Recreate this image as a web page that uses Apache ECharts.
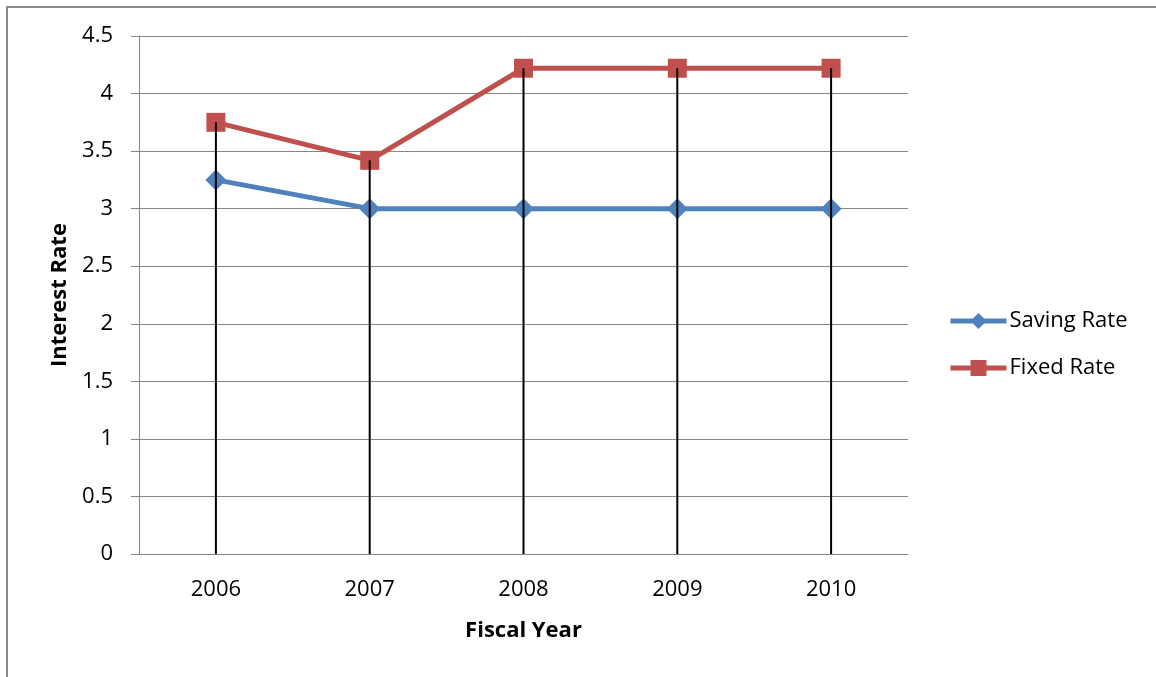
<!DOCTYPE html>
<html>
<head>
<meta charset="utf-8">
<script src="https://cdn.jsdelivr.net/npm/echarts@6/dist/echarts.min.js"></script>
<style>
  html, body { margin: 0; padding: 0; background: #fff; }
  #chart { width: 1156px; height: 677px; }
</style>
</head>
<body>
<div id="chart"></div>
<script>
// Fiscal years and interest rates per year
const years = ['2006', '2007', '2008', '2009', '2010'];
const savingRate = [3.25, 3, 3, 3, 3];
const fixedRate = [3.75, 3.42, 4.22, 4.22, 4.22];

const FONT = '"Open Sans", "Noto Sans", sans-serif';
const FS = 22;
const GRID = '#868686';

// High point of each year, used for the vertical drop lines
const dropData = years.map((y, i) => [i, Math.max(savingRate[i], fixedRate[i])]);

const chart = echarts.init(document.getElementById('chart'));
chart.setOption({
  animation: false,
  backgroundColor: '#fff',
  graphic: [{
    type: 'rect',
    shape: { x: 7, y: 7, width: 1300, height: 800 },
    style: { fill: 'none', stroke: '#8a8a8a', lineWidth: 2 },
    silent: true
  }],
  grid: { left: 139, right: 248, top: 36, bottom: 123 },
  legend: {
    orient: 'vertical',
    left: 943,
    top: 305,
    itemWidth: 56,
    itemHeight: 20,
    itemGap: 25,
    lineStyle: { width: 5 },
    textStyle: { fontFamily: FONT, fontSize: FS, color: '#000', padding: [0, 0, 0, -2] },
    data: ['Saving Rate', 'Fixed Rate']
  },
  xAxis: {
    type: 'category',
    data: years,
    boundaryGap: true,
    name: 'Fiscal Year',
    nameLocation: 'middle',
    nameGap: 66,
    nameTextStyle: { fontFamily: FONT, fontSize: FS, fontWeight: 'bold', color: '#000' },
    axisLine: { lineStyle: { color: GRID, width: 1 } },
    axisTick: { show: false },
    axisLabel: { fontFamily: FONT, fontSize: FS, color: '#000', margin: 25 }
  },
  yAxis: {
    type: 'value',
    min: 0,
    max: 4.5,
    interval: 0.5,
    name: 'Interest Rate',
    nameLocation: 'middle',
    nameRotate: 90,
    nameGap: 68,
    nameTextStyle: { fontFamily: FONT, fontSize: FS, fontWeight: 'bold', color: '#000' },
    axisLine: { show: true, lineStyle: { color: GRID, width: 1 } },
    axisTick: { show: true, length: 8, lineStyle: { color: GRID } },
    axisLabel: { fontFamily: FONT, fontSize: FS, color: '#000', margin: 26 },
    splitLine: { lineStyle: { color: GRID, width: 1 } }
  },
  series: [
    {
      name: 'Saving Rate',
      type: 'line',
      data: savingRate,
      symbol: 'diamond',
      symbolSize: 21,
      itemStyle: { color: '#4F81BD' },
      lineStyle: { color: '#4F81BD', width: 5 },
      z: 3
    },
    {
      name: 'Fixed Rate',
      type: 'line',
      data: fixedRate,
      symbol: 'rect',
      symbolSize: 19,
      itemStyle: { color: '#C0504D' },
      lineStyle: { color: '#C0504D', width: 5 },
      z: 3
    },
    {
      name: 'drop',
      type: 'custom',
      data: dropData,
      z: 10,
      silent: true,
      renderItem: function (params, api) {
        const top = api.coord([api.value(0), api.value(1)]);
        const bottom = api.coord([api.value(0), 0]);
        return {
          type: 'line',
          shape: { x1: top[0], y1: top[1], x2: bottom[0], y2: bottom[1] },
          style: { stroke: '#000', lineWidth: 2 }
        };
      }
    }
  ]
});
</script>
</body>
</html>
